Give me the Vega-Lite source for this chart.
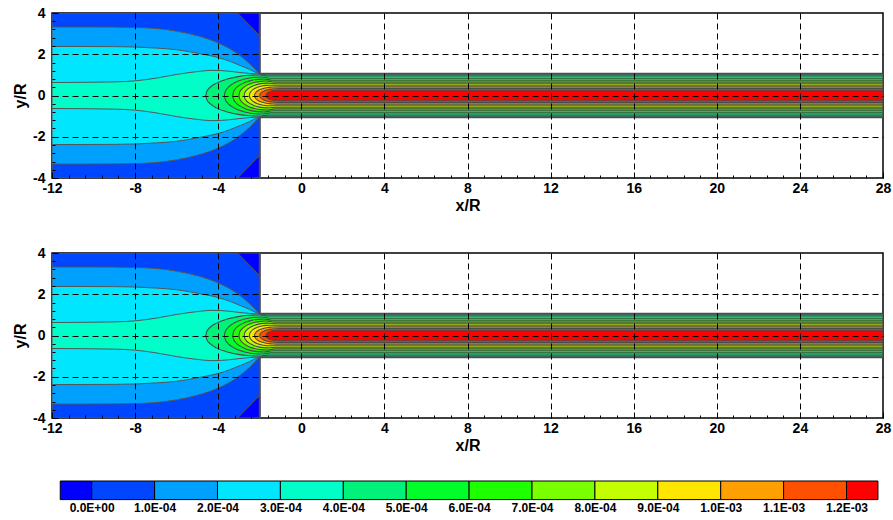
{
  "$schema": "https://vega.github.io/schema/vega-lite/v6.json",
  "background": "white",
  "padding": {"left": 11, "top": 5, "right": 0, "bottom": 0},
  "spacing": 26,
  "datasets": {
    "field": [
      {"level": 0, "part": "a", "x": -12, "yt": 4, "yb": -4},
      {"level": 0, "part": "a", "x": -2, "yt": 4, "yb": -4},
      {"level": -1, "part": "t", "x": -3.07, "yt": 4, "yb": 4},
      {"level": -1, "part": "t", "x": -2, "yt": 4, "yb": 2.9},
      {"level": -1, "part": "b", "x": -3.07, "yt": -4, "yb": -4},
      {"level": -1, "part": "b", "x": -2, "yt": -2.9, "yb": -4},
      {"level": 1, "part": "a", "x": -12, "yt": 3.32, "yb": -3.32},
      {"level": 1, "part": "a", "x": -10, "yt": 3.32, "yb": -3.32},
      {"level": 1, "part": "a", "x": -8, "yt": 3.3, "yb": -3.3},
      {"level": 1, "part": "a", "x": -7, "yt": 3.25, "yb": -3.25},
      {"level": 1, "part": "a", "x": -6, "yt": 3.12, "yb": -3.12},
      {"level": 1, "part": "a", "x": -5, "yt": 2.9, "yb": -2.9},
      {"level": 1, "part": "a", "x": -4, "yt": 2.55, "yb": -2.55},
      {"level": 1, "part": "a", "x": -3.5, "yt": 2.3, "yb": -2.3},
      {"level": 1, "part": "a", "x": -3, "yt": 1.98, "yb": -1.98},
      {"level": 1, "part": "a", "x": -2.5, "yt": 1.55, "yb": -1.55},
      {"level": 1, "part": "a", "x": -2.2, "yt": 1.25, "yb": -1.25},
      {"level": 1, "part": "a", "x": -2, "yt": 1.05, "yb": -1.05},
      {"level": 1, "part": "a", "x": 28, "yt": 1.05, "yb": -1.05},
      {"level": 2, "part": "a", "x": -12, "yt": 2.38, "yb": -2.38},
      {"level": 2, "part": "a", "x": -9, "yt": 2.37, "yb": -2.37},
      {"level": 2, "part": "a", "x": -8, "yt": 2.35, "yb": -2.35},
      {"level": 2, "part": "a", "x": -7, "yt": 2.3, "yb": -2.3},
      {"level": 2, "part": "a", "x": -6, "yt": 2.22, "yb": -2.22},
      {"level": 2, "part": "a", "x": -5, "yt": 2.05, "yb": -2.05},
      {"level": 2, "part": "a", "x": -4, "yt": 1.84, "yb": -1.84},
      {"level": 2, "part": "a", "x": -3.5, "yt": 1.68, "yb": -1.68},
      {"level": 2, "part": "a", "x": -3, "yt": 1.48, "yb": -1.48},
      {"level": 2, "part": "a", "x": -2.5, "yt": 1.27, "yb": -1.27},
      {"level": 2, "part": "a", "x": -2.2, "yt": 1.12, "yb": -1.12},
      {"level": 2, "part": "a", "x": -2, "yt": 1.05, "yb": -1.05},
      {"level": 2, "part": "a", "x": 28, "yt": 1.05, "yb": -1.05},
      {"level": 3, "part": "a", "x": -12, "yt": 0.63, "yb": -0.63},
      {"level": 3, "part": "a", "x": -9, "yt": 0.66, "yb": -0.66},
      {"level": 3, "part": "a", "x": -8, "yt": 0.71, "yb": -0.71},
      {"level": 3, "part": "a", "x": -7, "yt": 0.84, "yb": -0.84},
      {"level": 3, "part": "a", "x": -6, "yt": 1.02, "yb": -1.02},
      {"level": 3, "part": "a", "x": -5, "yt": 1.16, "yb": -1.16},
      {"level": 3, "part": "a", "x": -4.3, "yt": 1.22, "yb": -1.22},
      {"level": 3, "part": "a", "x": -3.5, "yt": 1.18, "yb": -1.18},
      {"level": 3, "part": "a", "x": -3, "yt": 1.12, "yb": -1.12},
      {"level": 3, "part": "a", "x": -2.5, "yt": 1.07, "yb": -1.07},
      {"level": 3, "part": "a", "x": -2, "yt": 1.05, "yb": -1.05},
      {"level": 3, "part": "a", "x": 28, "yt": 1.05, "yb": -1.05},
      {"level": 4, "part": "a", "x": -4.6, "yt": 0, "yb": 0},
      {"level": 4, "part": "a", "x": -4.548, "yt": 0.199, "yb": -0.199},
      {"level": 4, "part": "a", "x": -4.392, "yt": 0.392, "yb": -0.392},
      {"level": 4, "part": "a", "x": -4.08, "yt": 0.6, "yb": -0.6},
      {"level": 4, "part": "a", "x": -3.56, "yt": 0.8, "yb": -0.8},
      {"level": 4, "part": "a", "x": -3.04, "yt": 0.917, "yb": -0.917},
      {"level": 4, "part": "a", "x": -2.52, "yt": 0.98, "yb": -0.98},
      {"level": 4, "part": "a", "x": -2.0, "yt": 1.0, "yb": -1.0},
      {"level": 4, "part": "a", "x": -1.6, "yt": 0.95, "yb": -0.95},
      {"level": 4, "part": "a", "x": 28, "yt": 0.95, "yb": -0.95},
      {"level": 5, "part": "a", "x": -3.7, "yt": 0, "yb": 0},
      {"level": 5, "part": "a", "x": -3.664, "yt": 0.179, "yb": -0.179},
      {"level": 5, "part": "a", "x": -3.556, "yt": 0.353, "yb": -0.353},
      {"level": 5, "part": "a", "x": -3.34, "yt": 0.54, "yb": -0.54},
      {"level": 5, "part": "a", "x": -2.98, "yt": 0.72, "yb": -0.72},
      {"level": 5, "part": "a", "x": -2.62, "yt": 0.825, "yb": -0.825},
      {"level": 5, "part": "a", "x": -2.26, "yt": 0.882, "yb": -0.882},
      {"level": 5, "part": "a", "x": -1.9, "yt": 0.9, "yb": -0.9},
      {"level": 5, "part": "a", "x": -1.5, "yt": 0.84, "yb": -0.84},
      {"level": 5, "part": "a", "x": 28, "yt": 0.84, "yb": -0.84},
      {"level": 6, "part": "a", "x": -3.3, "yt": 0, "yb": 0},
      {"level": 6, "part": "a", "x": -3.27, "yt": 0.159, "yb": -0.159},
      {"level": 6, "part": "a", "x": -3.18, "yt": 0.314, "yb": -0.314},
      {"level": 6, "part": "a", "x": -3.0, "yt": 0.48, "yb": -0.48},
      {"level": 6, "part": "a", "x": -2.7, "yt": 0.64, "yb": -0.64},
      {"level": 6, "part": "a", "x": -2.4, "yt": 0.734, "yb": -0.734},
      {"level": 6, "part": "a", "x": -2.1, "yt": 0.784, "yb": -0.784},
      {"level": 6, "part": "a", "x": -1.8, "yt": 0.8, "yb": -0.8},
      {"level": 6, "part": "a", "x": -1.4, "yt": 0.74, "yb": -0.74},
      {"level": 6, "part": "a", "x": 28, "yt": 0.74, "yb": -0.74},
      {"level": 7, "part": "a", "x": -3.0, "yt": 0, "yb": 0},
      {"level": 7, "part": "a", "x": -2.974, "yt": 0.139, "yb": -0.139},
      {"level": 7, "part": "a", "x": -2.896, "yt": 0.274, "yb": -0.274},
      {"level": 7, "part": "a", "x": -2.74, "yt": 0.42, "yb": -0.42},
      {"level": 7, "part": "a", "x": -2.48, "yt": 0.56, "yb": -0.56},
      {"level": 7, "part": "a", "x": -2.22, "yt": 0.642, "yb": -0.642},
      {"level": 7, "part": "a", "x": -1.96, "yt": 0.686, "yb": -0.686},
      {"level": 7, "part": "a", "x": -1.7, "yt": 0.7, "yb": -0.7},
      {"level": 7, "part": "a", "x": -1.3, "yt": 0.65, "yb": -0.65},
      {"level": 7, "part": "a", "x": 28, "yt": 0.65, "yb": -0.65},
      {"level": 8, "part": "a", "x": -2.75, "yt": 0, "yb": 0},
      {"level": 8, "part": "a", "x": -2.727, "yt": 0.119, "yb": -0.119},
      {"level": 8, "part": "a", "x": -2.658, "yt": 0.235, "yb": -0.235},
      {"level": 8, "part": "a", "x": -2.52, "yt": 0.36, "yb": -0.36},
      {"level": 8, "part": "a", "x": -2.29, "yt": 0.48, "yb": -0.48},
      {"level": 8, "part": "a", "x": -2.06, "yt": 0.55, "yb": -0.55},
      {"level": 8, "part": "a", "x": -1.83, "yt": 0.588, "yb": -0.588},
      {"level": 8, "part": "a", "x": -1.6, "yt": 0.6, "yb": -0.6},
      {"level": 8, "part": "a", "x": -1.2, "yt": 0.57, "yb": -0.57},
      {"level": 8, "part": "a", "x": 28, "yt": 0.57, "yb": -0.57},
      {"level": 9, "part": "a", "x": -2.5, "yt": 0, "yb": 0},
      {"level": 9, "part": "a", "x": -2.48, "yt": 0.1, "yb": -0.1},
      {"level": 9, "part": "a", "x": -2.42, "yt": 0.196, "yb": -0.196},
      {"level": 9, "part": "a", "x": -2.3, "yt": 0.3, "yb": -0.3},
      {"level": 9, "part": "a", "x": -2.1, "yt": 0.4, "yb": -0.4},
      {"level": 9, "part": "a", "x": -1.9, "yt": 0.459, "yb": -0.459},
      {"level": 9, "part": "a", "x": -1.7, "yt": 0.49, "yb": -0.49},
      {"level": 9, "part": "a", "x": -1.5, "yt": 0.5, "yb": -0.5},
      {"level": 9, "part": "a", "x": -1.1, "yt": 0.5, "yb": -0.5},
      {"level": 9, "part": "a", "x": 28, "yt": 0.5, "yb": -0.5},
      {"level": 10, "part": "a", "x": -2.25, "yt": 0, "yb": 0},
      {"level": 10, "part": "a", "x": -2.233, "yt": 0.08, "yb": -0.08},
      {"level": 10, "part": "a", "x": -2.182, "yt": 0.157, "yb": -0.157},
      {"level": 10, "part": "a", "x": -2.08, "yt": 0.24, "yb": -0.24},
      {"level": 10, "part": "a", "x": -1.91, "yt": 0.32, "yb": -0.32},
      {"level": 10, "part": "a", "x": -1.74, "yt": 0.367, "yb": -0.367},
      {"level": 10, "part": "a", "x": -1.57, "yt": 0.392, "yb": -0.392},
      {"level": 10, "part": "a", "x": -1.4, "yt": 0.41, "yb": -0.41},
      {"level": 10, "part": "a", "x": -1.0, "yt": 0.42, "yb": -0.42},
      {"level": 10, "part": "a", "x": 28, "yt": 0.42, "yb": -0.42},
      {"level": 11, "part": "a", "x": -2.0, "yt": 0, "yb": 0},
      {"level": 11, "part": "a", "x": -1.986, "yt": 0.062, "yb": -0.062},
      {"level": 11, "part": "a", "x": -1.944, "yt": 0.122, "yb": -0.122},
      {"level": 11, "part": "a", "x": -1.86, "yt": 0.186, "yb": -0.186},
      {"level": 11, "part": "a", "x": -1.72, "yt": 0.248, "yb": -0.248},
      {"level": 11, "part": "a", "x": -1.58, "yt": 0.284, "yb": -0.284},
      {"level": 11, "part": "a", "x": -1.44, "yt": 0.31, "yb": -0.31},
      {"level": 11, "part": "a", "x": -1.3, "yt": 0.33, "yb": -0.33},
      {"level": 11, "part": "a", "x": -0.9, "yt": 0.34, "yb": -0.34},
      {"level": 11, "part": "a", "x": 28, "yt": 0.34, "yb": -0.34},
      {"level": 12, "part": "a", "x": -1.7, "yt": 0, "yb": 0},
      {"level": 12, "part": "a", "x": -1.688, "yt": 0.05, "yb": -0.05},
      {"level": 12, "part": "a", "x": -1.652, "yt": 0.1, "yb": -0.1},
      {"level": 12, "part": "a", "x": -1.58, "yt": 0.155, "yb": -0.155},
      {"level": 12, "part": "a", "x": -1.46, "yt": 0.205, "yb": -0.205},
      {"level": 12, "part": "a", "x": -1.34, "yt": 0.235, "yb": -0.235},
      {"level": 12, "part": "a", "x": -1.22, "yt": 0.25, "yb": -0.25},
      {"level": 12, "part": "a", "x": -1.1, "yt": 0.26, "yb": -0.26},
      {"level": 12, "part": "a", "x": 28, "yt": 0.26, "yb": -0.26}
    ],
    "wall": [
      {"x": -2, "yt": 4, "yb": 1.05},
      {"x": -2, "yt": -1.05, "yb": -4}
    ],
    "edge": [
      {"x": -2, "x2": 28, "yt": 1.05},
      {"x": -2, "x2": 28, "yt": -1.05}
    ],
    "bar": [
      {"level": -1, "lo": -0.5, "hi": 0},
      {"level": 0, "lo": 0, "hi": 1},
      {"level": 1, "lo": 1, "hi": 2},
      {"level": 2, "lo": 2, "hi": 3},
      {"level": 3, "lo": 3, "hi": 4},
      {"level": 4, "lo": 4, "hi": 5},
      {"level": 5, "lo": 5, "hi": 6},
      {"level": 6, "lo": 6, "hi": 7},
      {"level": 7, "lo": 7, "hi": 8},
      {"level": 8, "lo": 8, "hi": 9},
      {"level": 9, "lo": 9, "hi": 10},
      {"level": 10, "lo": 10, "hi": 11},
      {"level": 11, "lo": 11, "hi": 12},
      {"level": 12, "lo": 12, "hi": 12.5}
    ]
  },
  "vconcat": [
    {
      "width": 831,
      "height": 165,
      "data": {"name": "field"},
      "encoding": {
        "x": {"field": "x", "type": "quantitative", "scale": {"domain": [-12, 28], "nice": false, "zero": false},
          "axis": {"title": "x/R", "values": [-12, -11.2, -10.4, -9.6, -8.8, -8, -7.2, -6.4, -5.6, -4.8, -4, -3.2, -2.4, -1.6, -0.8, 0, 0.8, 1.6, 2.4, 3.2, 4, 4.8, 5.6, 6.4, 7.2, 8, 8.8, 9.6, 10.4, 11.2, 12, 12.8, 13.6, 14.4, 15.2, 16, 16.8, 17.6, 18.4, 19.2, 20, 20.8, 21.6, 22.4, 23.2, 24, 24.8, 25.6, 26.4, 27.2, 28],
            "labelExpr": "abs(datum.value/4 - round(datum.value/4)) < 0.001 ? '' + round(datum.value) : ''",
            "grid": true, "gridColor": "#000000", "gridDash": [6, 4], "gridWidth": 1,
            "gridOpacity": {"condition": {"test": "abs(datum.value/4 - round(datum.value/4)) < 0.001 && datum.value > -11.9 && datum.value < 27.9", "value": 1}, "value": 0},
            "ticks": true, "tickColor": "#000000", "tickWidth": 1,
            "tickSize": {"condition": {"test": "abs(datum.value/4 - round(datum.value/4)) < 0.001", "value": -6}, "value": -3},
            "domain": false, "labelFont": "Liberation Sans", "labelFontSize": 14, "labelFontWeight": "bold", "labelColor": "#000000",
            "labelPadding": 9, "labelFlush": false, "labelOverlap": false, "labelBound": false,
            "titleFont": "Liberation Sans", "titleFontSize": 16, "titleFontWeight": "bold", "titleColor": "#000000", "titlePadding": -1, "zindex": 1}},
        "y": {"field": "yt", "type": "quantitative", "stack": null, "scale": {"domain": [-4, 4], "nice": false, "zero": false},
          "axis": {"title": "y/R", "values": [-4, -3.6, -3.2, -2.8, -2.4, -2, -1.6, -1.2, -0.8, -0.4, 0, 0.4, 0.8, 1.2, 1.6, 2, 2.4, 2.8, 3.2, 3.6, 4],
            "labelExpr": "abs(datum.value/2 - round(datum.value/2)) < 0.001 ? '' + round(datum.value) : ''",
            "grid": true, "gridColor": "#000000", "gridDash": [6, 4], "gridWidth": 1,
            "gridOpacity": {"condition": {"test": "abs(datum.value/2 - round(datum.value/2)) < 0.001 && abs(datum.value) < 3.9", "value": 1}, "value": 0},
            "ticks": true, "tickColor": "#000000", "tickWidth": 1,
            "tickSize": {"condition": {"test": "abs(datum.value/2 - round(datum.value/2)) < 0.001", "value": -6}, "value": -3},
            "domain": false, "labelFont": "Liberation Sans", "labelFontSize": 14, "labelFontWeight": "bold", "labelColor": "#000000",
            "labelPadding": 13, "labelFlush": false, "labelOverlap": false, "labelBound": false,
            "titleFont": "Liberation Sans", "titleFontSize": 16, "titleFontWeight": "bold", "titleColor": "#000000", "titlePadding": 4, "zindex": 1}},
        "y2": {"field": "yb"},
        "color": {"field": "level", "type": "ordinal", "legend": null, "scale": {"domain": [-1, 0, 1, 2, 3, 4, 5, 6, 7, 8, 9, 10, 11, 12], "range": ["#0000ff", "#0046ff", "#00a0ff", "#00e6ff", "#00ffc8", "#00f27a", "#00ff2a", "#1eff00", "#78ff00", "#c3ff00", "#ffe600", "#ffa000", "#ff5000", "#ff0000"]}}
      },
      "layer": [
        {"transform": [{"filter": "datum.level == 0"}], "mark": {"type": "area", "interpolate": "linear", "stroke": "#555555", "strokeWidth": 1, "clip": true}},
        {"transform": [{"filter": "datum.level == -1"}], "mark": {"type": "area", "interpolate": "linear", "stroke": "#555555", "strokeWidth": 1, "clip": true}, "encoding": {"detail": {"field": "part"}}},
        {"transform": [{"filter": "datum.level == 1"}], "mark": {"type": "area", "interpolate": "monotone", "stroke": "#555555", "strokeWidth": 1, "clip": true}},
        {"transform": [{"filter": "datum.level == 2"}], "mark": {"type": "area", "interpolate": "monotone", "stroke": "#555555", "strokeWidth": 1, "clip": true}},
        {"transform": [{"filter": "datum.level == 3"}], "mark": {"type": "area", "interpolate": "monotone", "stroke": "#555555", "strokeWidth": 1, "clip": true}},
        {"transform": [{"filter": "datum.level == 4"}], "mark": {"type": "area", "interpolate": "monotone", "stroke": "#4a4a4a", "strokeWidth": 1.1, "clip": true}},
        {"transform": [{"filter": "datum.level == 5"}], "mark": {"type": "area", "interpolate": "monotone", "stroke": "#4a4a4a", "strokeWidth": 1.1, "clip": true}},
        {"transform": [{"filter": "datum.level == 6"}], "mark": {"type": "area", "interpolate": "monotone", "stroke": "#4a4a4a", "strokeWidth": 1.1, "clip": true}},
        {"transform": [{"filter": "datum.level == 7"}], "mark": {"type": "area", "interpolate": "monotone", "stroke": "#4a4a4a", "strokeWidth": 1.1, "clip": true}},
        {"transform": [{"filter": "datum.level == 8"}], "mark": {"type": "area", "interpolate": "monotone", "stroke": "#4a4a4a", "strokeWidth": 1.1, "clip": true}},
        {"transform": [{"filter": "datum.level == 9"}], "mark": {"type": "area", "interpolate": "monotone", "stroke": "#4a4a4a", "strokeWidth": 1.1, "clip": true}},
        {"transform": [{"filter": "datum.level == 10"}], "mark": {"type": "area", "interpolate": "monotone", "stroke": "#4a4a4a", "strokeWidth": 1.1, "clip": true}},
        {"transform": [{"filter": "datum.level == 11"}], "mark": {"type": "area", "interpolate": "monotone", "stroke": "#4a4a4a", "strokeWidth": 1.1, "clip": true}},
        {"transform": [{"filter": "datum.level == 12"}], "mark": {"type": "area", "interpolate": "monotone", "stroke": "#4a4a4a", "strokeWidth": 1.1, "clip": true}},
        {"data": {"name": "wall"}, "mark": {"type": "rule", "strokeWidth": 2}, "encoding": {"color": {"value": "#4d4d4d"}}},
        {"data": {"name": "edge"}, "mark": {"type": "rule", "strokeWidth": 2, "clip": true}, "encoding": {"x2": {"field": "x2"}, "y2": {"field": "yt"}, "color": {"value": "#4d4d4d"}}}
      ]
    },
    {
      "width": 831,
      "height": 165,
      "title": {"text": " ", "fontSize": 5, "offset": 0},
      "data": {"name": "field"},
      "encoding": {
        "x": {"field": "x", "type": "quantitative", "scale": {"domain": [-12, 28], "nice": false, "zero": false},
          "axis": {"title": "x/R", "values": [-12, -11.2, -10.4, -9.6, -8.8, -8, -7.2, -6.4, -5.6, -4.8, -4, -3.2, -2.4, -1.6, -0.8, 0, 0.8, 1.6, 2.4, 3.2, 4, 4.8, 5.6, 6.4, 7.2, 8, 8.8, 9.6, 10.4, 11.2, 12, 12.8, 13.6, 14.4, 15.2, 16, 16.8, 17.6, 18.4, 19.2, 20, 20.8, 21.6, 22.4, 23.2, 24, 24.8, 25.6, 26.4, 27.2, 28],
            "labelExpr": "abs(datum.value/4 - round(datum.value/4)) < 0.001 ? '' + round(datum.value) : ''",
            "grid": true, "gridColor": "#000000", "gridDash": [6, 4], "gridWidth": 1,
            "gridOpacity": {"condition": {"test": "abs(datum.value/4 - round(datum.value/4)) < 0.001 && datum.value > -11.9 && datum.value < 27.9", "value": 1}, "value": 0},
            "ticks": true, "tickColor": "#000000", "tickWidth": 1,
            "tickSize": {"condition": {"test": "abs(datum.value/4 - round(datum.value/4)) < 0.001", "value": -6}, "value": -3},
            "domain": false, "labelFont": "Liberation Sans", "labelFontSize": 14, "labelFontWeight": "bold", "labelColor": "#000000",
            "labelPadding": 9, "labelFlush": false, "labelOverlap": false, "labelBound": false,
            "titleFont": "Liberation Sans", "titleFontSize": 16, "titleFontWeight": "bold", "titleColor": "#000000", "titlePadding": -1, "zindex": 1}},
        "y": {"field": "yt", "type": "quantitative", "stack": null, "scale": {"domain": [-4, 4], "nice": false, "zero": false},
          "axis": {"title": "y/R", "values": [-4, -3.6, -3.2, -2.8, -2.4, -2, -1.6, -1.2, -0.8, -0.4, 0, 0.4, 0.8, 1.2, 1.6, 2, 2.4, 2.8, 3.2, 3.6, 4],
            "labelExpr": "abs(datum.value/2 - round(datum.value/2)) < 0.001 ? '' + round(datum.value) : ''",
            "grid": true, "gridColor": "#000000", "gridDash": [6, 4], "gridWidth": 1,
            "gridOpacity": {"condition": {"test": "abs(datum.value/2 - round(datum.value/2)) < 0.001 && abs(datum.value) < 3.9", "value": 1}, "value": 0},
            "ticks": true, "tickColor": "#000000", "tickWidth": 1,
            "tickSize": {"condition": {"test": "abs(datum.value/2 - round(datum.value/2)) < 0.001", "value": -6}, "value": -3},
            "domain": false, "labelFont": "Liberation Sans", "labelFontSize": 14, "labelFontWeight": "bold", "labelColor": "#000000",
            "labelPadding": 13, "labelFlush": false, "labelOverlap": false, "labelBound": false,
            "titleFont": "Liberation Sans", "titleFontSize": 16, "titleFontWeight": "bold", "titleColor": "#000000", "titlePadding": 4, "zindex": 1}},
        "y2": {"field": "yb"},
        "color": {"field": "level", "type": "ordinal", "legend": null, "scale": {"domain": [-1, 0, 1, 2, 3, 4, 5, 6, 7, 8, 9, 10, 11, 12], "range": ["#0000ff", "#0046ff", "#00a0ff", "#00e6ff", "#00ffc8", "#00f27a", "#00ff2a", "#1eff00", "#78ff00", "#c3ff00", "#ffe600", "#ffa000", "#ff5000", "#ff0000"]}}
      },
      "layer": [
        {"transform": [{"filter": "datum.level == 0"}], "mark": {"type": "area", "interpolate": "linear", "stroke": "#555555", "strokeWidth": 1, "clip": true}},
        {"transform": [{"filter": "datum.level == -1"}], "mark": {"type": "area", "interpolate": "linear", "stroke": "#555555", "strokeWidth": 1, "clip": true}, "encoding": {"detail": {"field": "part"}}},
        {"transform": [{"filter": "datum.level == 1"}], "mark": {"type": "area", "interpolate": "monotone", "stroke": "#555555", "strokeWidth": 1, "clip": true}},
        {"transform": [{"filter": "datum.level == 2"}], "mark": {"type": "area", "interpolate": "monotone", "stroke": "#555555", "strokeWidth": 1, "clip": true}},
        {"transform": [{"filter": "datum.level == 3"}], "mark": {"type": "area", "interpolate": "monotone", "stroke": "#555555", "strokeWidth": 1, "clip": true}},
        {"transform": [{"filter": "datum.level == 4"}], "mark": {"type": "area", "interpolate": "monotone", "stroke": "#4a4a4a", "strokeWidth": 1.1, "clip": true}},
        {"transform": [{"filter": "datum.level == 5"}], "mark": {"type": "area", "interpolate": "monotone", "stroke": "#4a4a4a", "strokeWidth": 1.1, "clip": true}},
        {"transform": [{"filter": "datum.level == 6"}], "mark": {"type": "area", "interpolate": "monotone", "stroke": "#4a4a4a", "strokeWidth": 1.1, "clip": true}},
        {"transform": [{"filter": "datum.level == 7"}], "mark": {"type": "area", "interpolate": "monotone", "stroke": "#4a4a4a", "strokeWidth": 1.1, "clip": true}},
        {"transform": [{"filter": "datum.level == 8"}], "mark": {"type": "area", "interpolate": "monotone", "stroke": "#4a4a4a", "strokeWidth": 1.1, "clip": true}},
        {"transform": [{"filter": "datum.level == 9"}], "mark": {"type": "area", "interpolate": "monotone", "stroke": "#4a4a4a", "strokeWidth": 1.1, "clip": true}},
        {"transform": [{"filter": "datum.level == 10"}], "mark": {"type": "area", "interpolate": "monotone", "stroke": "#4a4a4a", "strokeWidth": 1.1, "clip": true}},
        {"transform": [{"filter": "datum.level == 11"}], "mark": {"type": "area", "interpolate": "monotone", "stroke": "#4a4a4a", "strokeWidth": 1.1, "clip": true}},
        {"transform": [{"filter": "datum.level == 12"}], "mark": {"type": "area", "interpolate": "monotone", "stroke": "#4a4a4a", "strokeWidth": 1.1, "clip": true}},
        {"data": {"name": "wall"}, "mark": {"type": "rule", "strokeWidth": 2}, "encoding": {"color": {"value": "#4d4d4d"}}},
        {"data": {"name": "edge"}, "mark": {"type": "rule", "strokeWidth": 2, "clip": true}, "encoding": {"x2": {"field": "x2"}, "y2": {"field": "yt"}, "color": {"value": "#4d4d4d"}}}
      ]
    },
    {
      "width": 831,
      "height": 18.6,
      "view": {"stroke": null},
      "data": {"name": "bar"},
      "mark": {"type": "rect", "stroke": "#000000", "strokeWidth": 1},
      "encoding": {
        "x": {"field": "lo", "type": "quantitative", "scale": {"domain": [-0.631, 12.58], "nice": false, "zero": false},
          "axis": {"title": null, "values": [0, 1, 2, 3, 4, 5, 6, 7, 8, 9, 10, 11, 12],
            "labelExpr": "['0.0E+00','1.0E-04','2.0E-04','3.0E-04','4.0E-04','5.0E-04','6.0E-04','7.0E-04','8.0E-04','9.0E-04','1.0E-03','1.1E-03','1.2E-03'][datum.value]",
            "ticks": false, "domain": false, "grid": false, "labelFont": "Liberation Sans", "labelFontSize": 12, "labelFontWeight": "bold", "labelColor": "#000000",
            "labelPadding": 3, "labelFlush": false, "labelOverlap": false, "labelBound": false}},
        "x2": {"field": "hi"},
        "color": {"field": "level", "type": "ordinal", "legend": null, "scale": {"domain": [-1, 0, 1, 2, 3, 4, 5, 6, 7, 8, 9, 10, 11, 12], "range": ["#0000ff", "#0046ff", "#00a0ff", "#00e6ff", "#00ffc8", "#00f27a", "#00ff2a", "#1eff00", "#78ff00", "#c3ff00", "#ffe600", "#ffa000", "#ff5000", "#ff0000"]}}
      }
    }
  ],
  "config": {
    "font": "Liberation Sans",
    "view": {"stroke": "#000000", "strokeWidth": 1.5}
  }
}
